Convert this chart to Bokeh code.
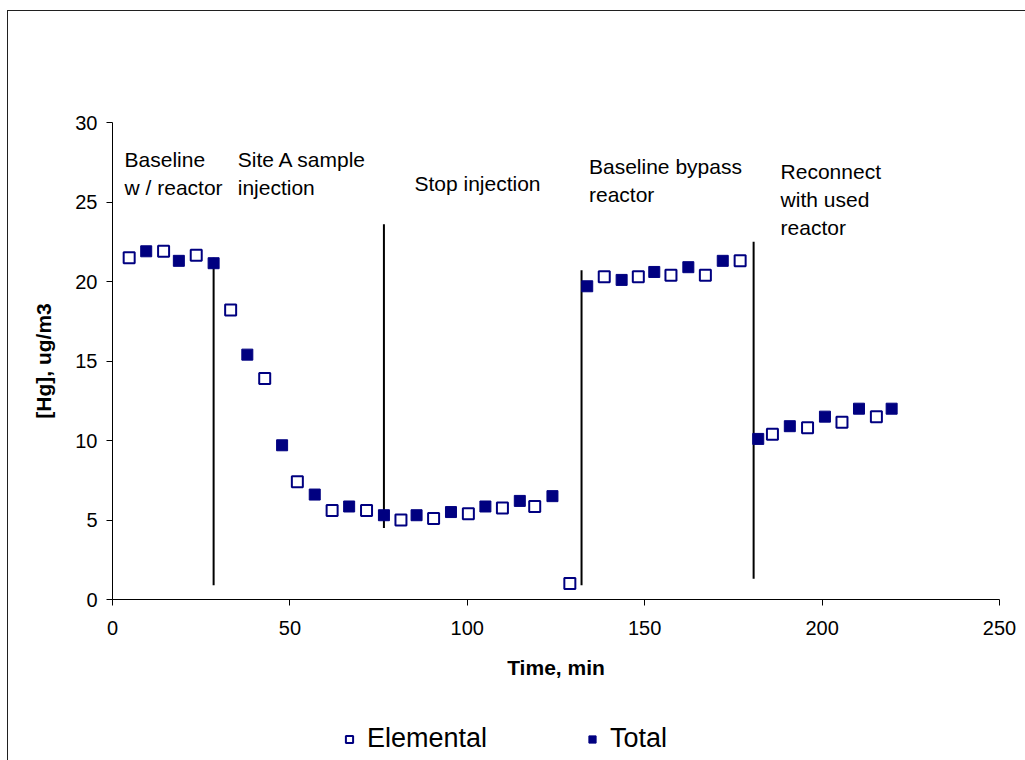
from bokeh.plotting import figure
from bokeh.layouts import column
from bokeh.models import Range1d, ColumnDataSource, FixedTicker, Legend, LegendItem
from bokeh.embed import file_html
from bokeh.resources import INLINE
from bokeh.core.properties import value

# ---- data ----
elem_t = [4.7, 14.4, 23.6, 33.3, 42.9, 52.1, 61.9, 71.6, 81.3, 90.5, 100.3, 109.9, 119.0, 128.9,
          138.6, 148.2, 157.4, 167.1, 176.9, 186.0, 195.9, 205.6, 215.3]
elem_hg = [21.5, 21.9, 21.65, 18.2, 13.9, 7.4, 5.6, 5.6, 5.0, 5.1, 5.4, 5.75, 5.85, 1.0,
           20.3, 20.3, 20.4, 20.4, 21.3, 10.4, 10.8, 11.15, 11.5]
total_t = [9.5, 18.7, 28.5, 38.0, 47.8, 57.0, 66.7, 76.5, 85.7, 95.4, 105.1, 114.8, 124.0,
           133.8, 143.5, 152.7, 162.3, 172.0, 182.0, 190.9, 200.8, 210.4, 219.6]
total_hg = [21.9, 21.3, 21.15, 15.4, 9.7, 6.6, 5.85, 5.3, 5.3, 5.5, 5.85, 6.2, 6.5,
            19.7, 20.1, 20.6, 20.9, 21.3, 10.1, 10.9, 11.5, 12.0, 12.0]

# event marker lines (time, bottom, top)
event_t = [28.5, 76.5, 132.2, 180.7]
event_lo = [0.9, 4.5, 0.9, 1.3]
event_hi = [21.5, 23.6, 20.7, 22.5]

# phase labels
label_text = ["Baseline\nw / reactor", "Site A sample\ninjection", "Stop injection",
              "Baseline bypass\nreactor", "Reconnect\nwith used\nreactor"]
label_t = [3.4, 35.3, 85.1, 134.3, 188.3]
label_y = [28.4, 28.4, 26.9, 27.94, 27.66]

series_names = ["Elemental", "Total"]
x_ticks = [0, 50, 100, 150, 200, 250]
y_ticks = [0, 5, 10, 15, 20, 25, 30]

NAVY = "#000080"
FONT = "Liberation Sans"

p = figure(width=1018, height=690, output_backend="svg", toolbar_location=None,
           x_range=Range1d(0, 250), y_range=Range1d(0, 30),
           min_border_left=104, min_border_right=27, min_border_top=111, min_border_bottom=102)

p.grid.visible = False
p.outline_line_color = None

for ax in (p.xaxis[0], p.yaxis[0]):
    ax.axis_line_color = "black"
    ax.major_tick_line_color = "black"
    ax.major_tick_out = 6
    ax.major_tick_in = 0
    ax.minor_tick_line_color = None
    ax.major_label_text_font = FONT
    ax.major_label_text_font_size = "20px"
    ax.major_label_text_color = "black"
    ax.axis_label_text_font = FONT
    ax.axis_label_text_font_size = "21px"
    ax.axis_label_text_font_style = "bold"
    ax.axis_label_text_color = "black"

p.xaxis.ticker = FixedTicker(ticks=x_ticks)
p.yaxis.ticker = FixedTicker(ticks=y_ticks)
p.xaxis.axis_label = "Time, min"
p.yaxis.axis_label = "[Hg], ug/m3"
p.xaxis.major_label_standoff = 15
p.xaxis.axis_label_standoff = 18
p.yaxis.major_label_standoff = 9
p.yaxis.axis_label_standoff = 17

p.segment(x0=event_t, y0=event_lo, x1=event_t, y1=event_hi, line_color="black", line_width=2)

p.scatter(elem_t, elem_hg, marker="square", size=11, fill_color="white",
          line_color=NAVY, line_width=2)
p.scatter(total_t, total_hg, marker="square", size=11, fill_color=NAVY,
          line_color=NAVY, line_width=1)

src = ColumnDataSource(dict(x=label_t, y=label_y, text=label_text))
p.text(x="x", y="y", text="text", source=src, text_font=value(FONT), text_font_size="21px",
       text_baseline="top", text_align="left", text_color="black", text_line_height=1.22)

# ---- legend strip below the chart (series drawn out of view, only legend shows) ----
pl = figure(width=1018, height=60, output_backend="svg", toolbar_location=None,
            x_range=Range1d(-2, -1), y_range=Range1d(-2, -1), x_axis_type=None, y_axis_type=None,
            min_border=0)
pl.grid.visible = False
pl.outline_line_color = None
le = pl.scatter(elem_t, elem_hg, marker="square", size=11, fill_color="white",
                line_color=NAVY, line_width=2)
lt = pl.scatter(total_t, total_hg, marker="square", size=11, fill_color=NAVY,
                line_color=NAVY, line_width=1)
legend = Legend(items=[LegendItem(label=series_names[0], renderers=[le]),
                       LegendItem(label=series_names[1], renderers=[lt])],
                location=(228, 7), orientation="horizontal")
legend.label_text_font = FONT
legend.label_text_font_size = "27px"
legend.label_text_color = "black"
legend.glyph_width = 18
legend.glyph_height = 18
legend.label_standoff = 9
legend.spacing = 96
legend.padding = 0
legend.margin = 0
legend.border_line_alpha = 0
legend.background_fill_alpha = 0
pl.add_layout(legend, "center")

lay = column(p, pl, spacing=0)
lay.margin = (10, 0, 0, 7)
lay.styles = {"border-left": "1px solid #202020", "border-top": "1px solid #202020"}

open("out.html", "w").write(file_html(lay, INLINE))
